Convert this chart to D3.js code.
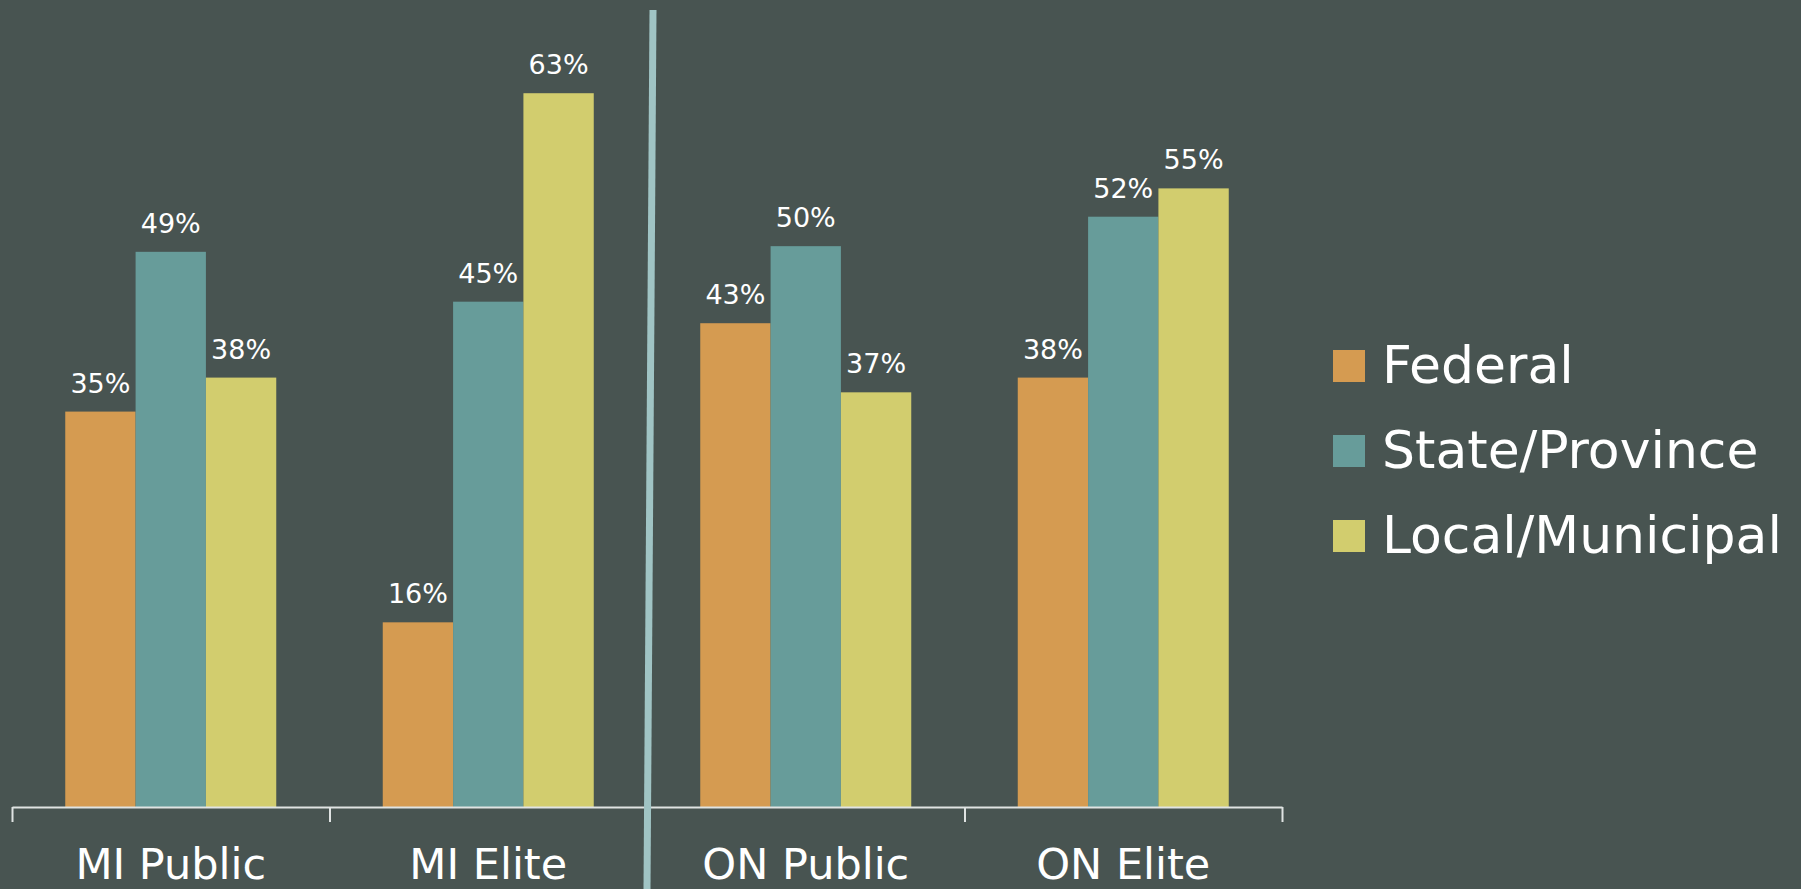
<!DOCTYPE html>
<html>
<head>
<meta charset="utf-8">
<script src="https://cdn.jsdelivr.net/npm/d3@7"></script>
<style>
  html, body { margin: 0; padding: 0; background: #485451; overflow: hidden; }
  svg { display: block; }
  text { font-family: "DejaVu Sans", sans-serif; fill: #ffffff; }
</style>
</head>
<body>
<div id="chart"></div>
<script>
// Chart data (bar heights; labels are rounded)
const categories = ["MI Public", "MI Elite", "ON Public", "ON Elite"];
const seriesNames = ["Federal", "State/Province", "Local/Municipal"];
const federalValues = [34.9, 16.3, 42.7, 37.9];
const stateValues = [49.0, 44.6, 49.5, 52.1];
const localValues = [37.9, 63.0, 36.6, 54.6];
const seriesColors = ["#d59b51", "#679c9a", "#d2cd6e"];

const width = 1801;
const height = 889;

const svg = d3
  .select("#chart")
  .append("svg")
  .attr("width", width)
  .attr("height", height);

svg.append("rect").attr("width", width).attr("height", height).attr("fill", "#485451");

// Scales
const xScale = d3.scaleBand().domain(categories).range([12, 1282]).padding(0);
const innerScale = d3
  .scaleBand()
  .domain(seriesNames)
  .range([0, xScale.bandwidth()])
  .paddingInner(0)
  .paddingOuter(0.757);
const yScale = d3.scaleLinear().domain([0, 70]).range([807, 807 - 70 * 11.33]);
const color = d3.scaleOrdinal().domain(seriesNames).range(seriesColors);

// Build rows from the arrays
const allValues = [federalValues, stateValues, localValues];
const rows = [];
categories.forEach((cat, i) => {
  seriesNames.forEach((s, j) => {
    rows.push({ category: cat, series: s, value: allValues[j][i] });
  });
});

// Bars
svg
  .selectAll(".bar")
  .data(rows)
  .enter()
  .append("rect")
  .attr("class", "bar")
  .attr("x", (d) => xScale(d.category) + innerScale(d.series))
  .attr("width", innerScale.bandwidth())
  .attr("y", (d) => yScale(d.value))
  .attr("height", (d) => yScale(0) - yScale(d.value))
  .attr("fill", (d) => color(d.series));

// Value labels
svg
  .selectAll(".value-label")
  .data(rows)
  .enter()
  .append("text")
  .attr("class", "value-label")
  .attr("x", (d) => xScale(d.category) + innerScale(d.series) + innerScale.bandwidth() / 2)
  .attr("y", (d) => yScale(d.value) - 19)
  .attr("text-anchor", "middle")
  .attr("font-size", "27px")
  .text((d) => Math.round(d.value) + "%");

// Axis with ticks at band edges
const edgeScale = d3.scaleLinear().domain([0, categories.length]).range(xScale.range());
const axis = svg
  .append("g")
  .attr("transform", `translate(0,${yScale(0)})`)
  .call(
    d3
      .axisBottom(edgeScale)
      .tickValues(d3.range(categories.length + 1))
      .tickSize(15)
      .tickSizeOuter(0)
      .tickFormat("")
  );
axis.selectAll("path, line").attr("stroke", "#dfe3e2").attr("stroke-width", 2);

// Category labels
svg
  .selectAll(".cat-label")
  .data(categories)
  .enter()
  .append("text")
  .attr("class", "cat-label")
  .attr("x", (d) => xScale(d) + xScale.bandwidth() / 2)
  .attr("y", 879)
  .attr("text-anchor", "middle")
  .attr("font-size", "43px")
  .text((d) => d);

// Divider line between MI and ON
svg
  .append("line")
  .attr("x1", 653)
  .attr("y1", 10)
  .attr("x2", 647)
  .attr("y2", height)
  .attr("stroke", "#a0c4c4")
  .attr("stroke-width", 7);

// Legend
const legend = svg
  .append("g")
  .selectAll("g")
  .data(seriesNames)
  .enter()
  .append("g")
  .attr("transform", (d, i) => `translate(1333,${350 + i * 85})`);

legend
  .append("rect")
  .attr("width", 32)
  .attr("height", 32)
  .attr("fill", (d) => color(d));

legend
  .append("text")
  .attr("x", 49)
  .attr("y", 33)
  .attr("font-size", "52px")
  .text((d) => d);
</script>
</body>
</html>
